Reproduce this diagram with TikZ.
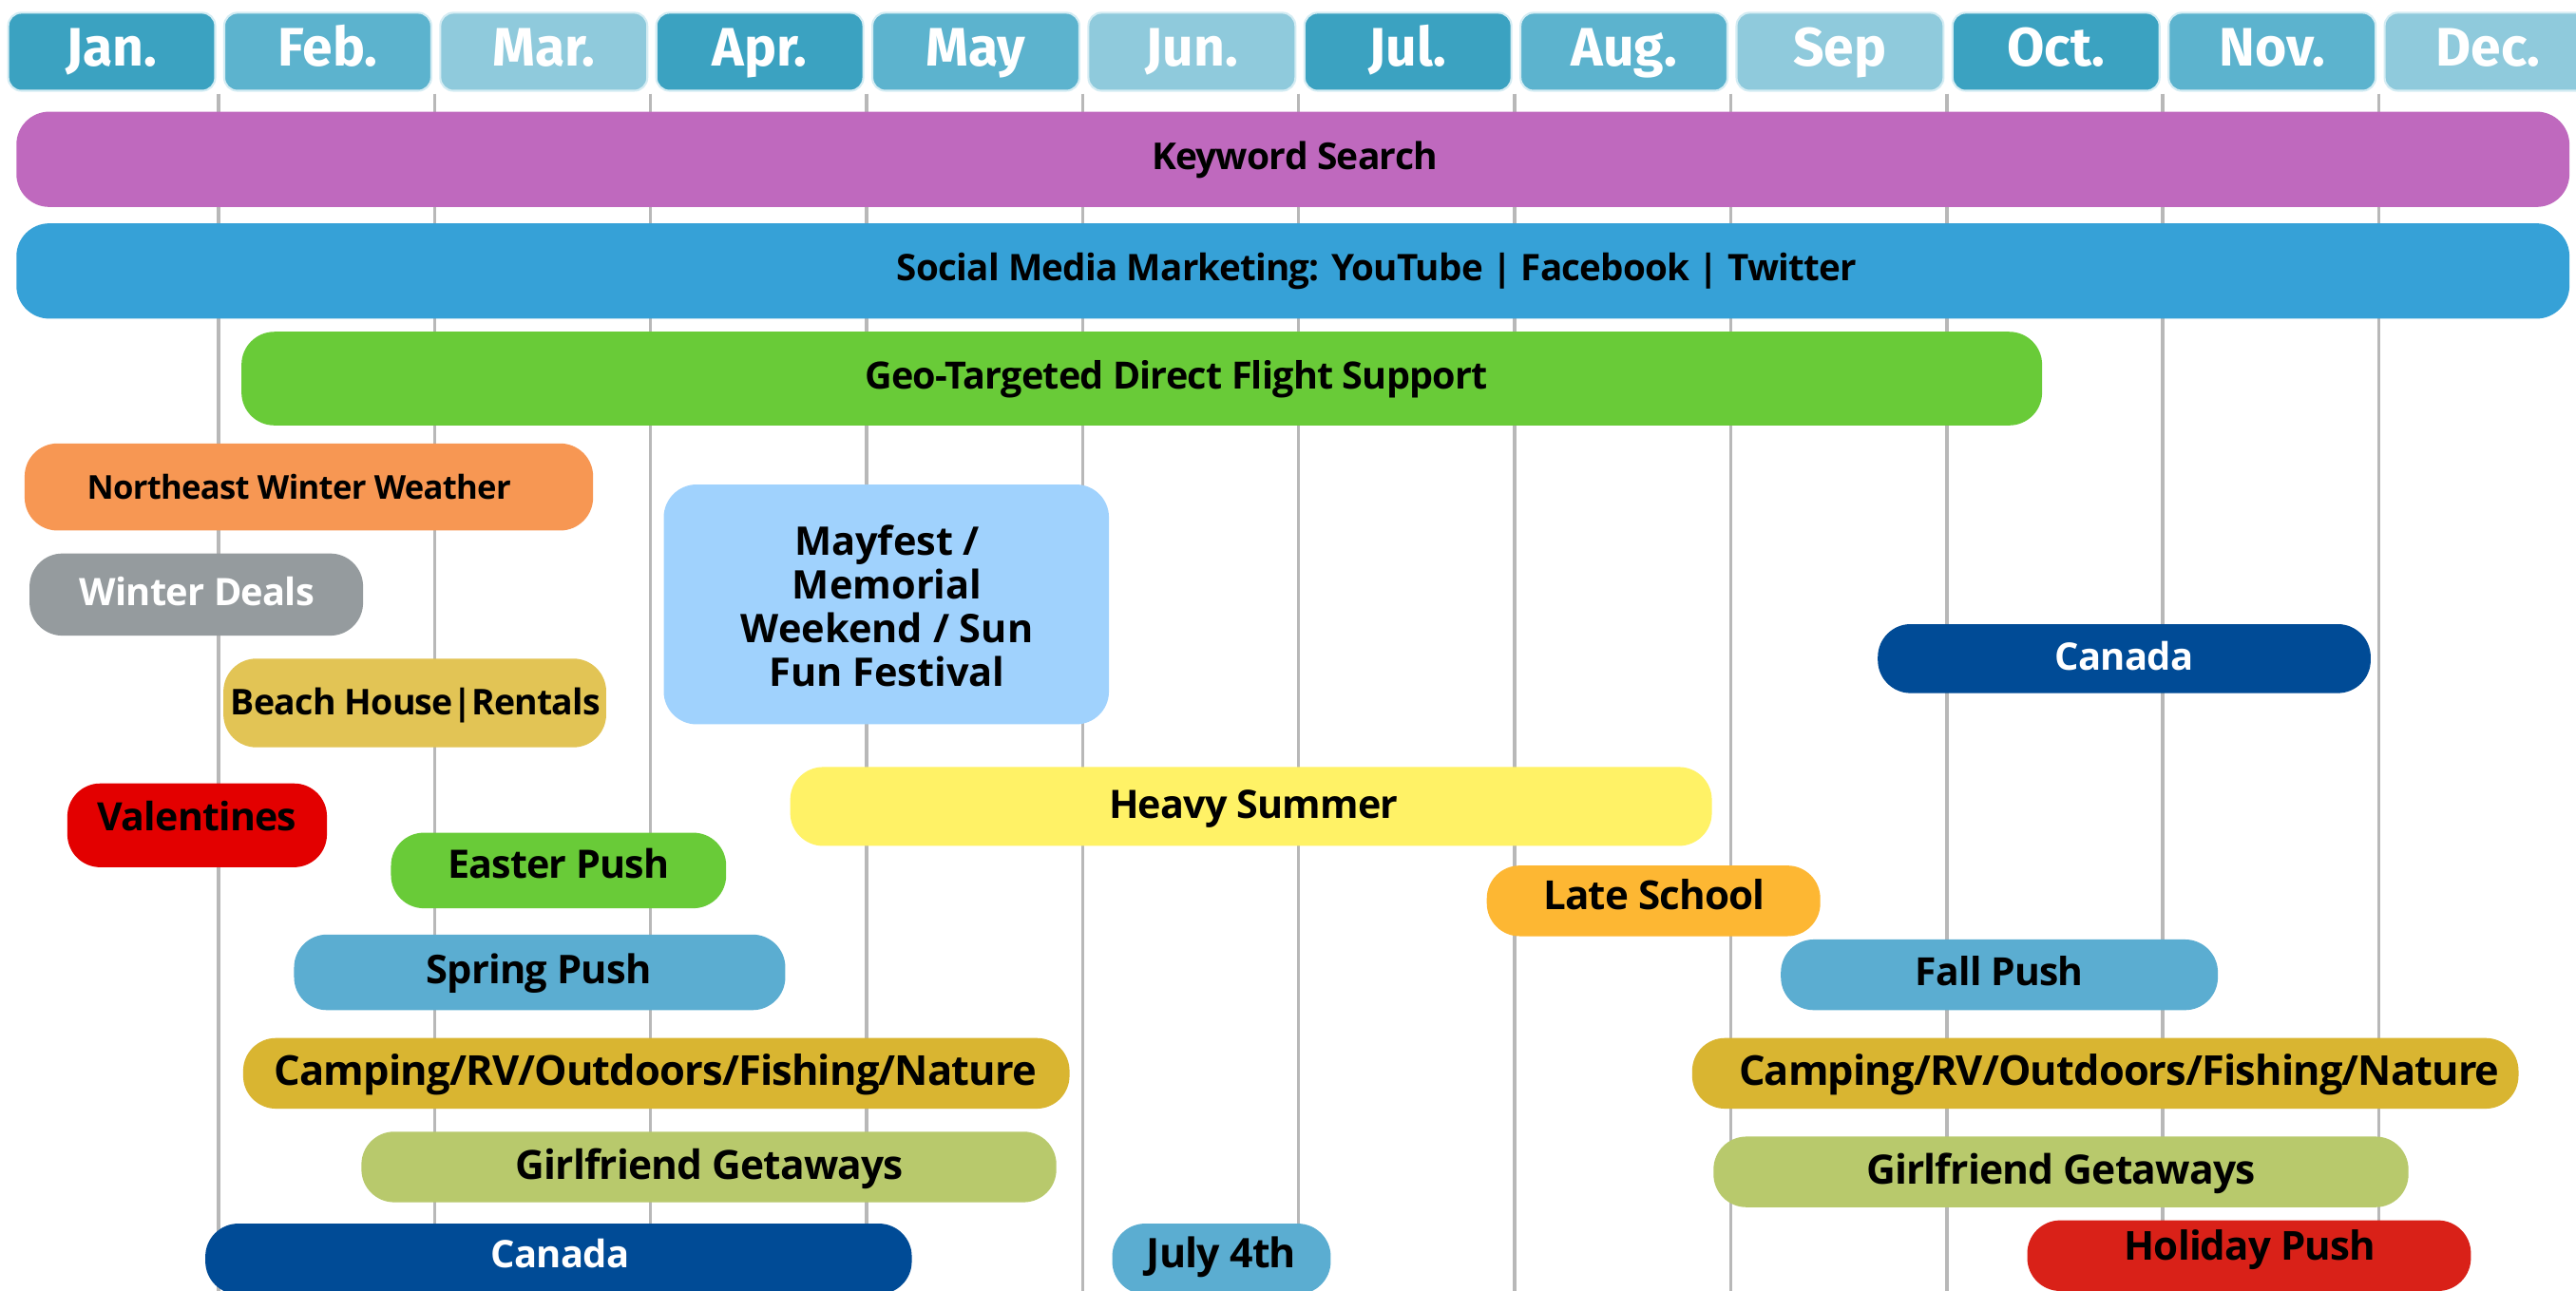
\documentclass[tikz,border=0pt]{standalone}
\usepackage{fontspec}
\setmainfont{Open Sans}
\newfontfamily\barfont{Open Sans}[LetterSpace=-2]
\newfontfamily\tabfont{Fira Sans}
\newcommand{\fitw}[2]{\resizebox{#1pt}{!}{#2}}
\definecolor{tabA}{HTML}{3BA2C1}
\definecolor{tabB}{HTML}{5CB3CE}
\definecolor{tabC}{HTML}{8FCADC}
\definecolor{tabglow}{HTML}{D4ECF3}
\definecolor{gridc}{HTML}{B8B8B8}
\definecolor{ckw}{HTML}{BF69BE}
\definecolor{csm}{HTML}{36A1D7}
\definecolor{cgeo}{HTML}{69CB38}
\definecolor{cne}{HTML}{F79753}
\definecolor{cwd}{HTML}{959B9E}
\definecolor{cbh}{HTML}{E2C455}
\definecolor{cmf}{HTML}{A0D2FD}
\definecolor{ccan}{HTML}{004B96}
\definecolor{cval}{HTML}{E30000}
\definecolor{chs}{HTML}{FFF266}
\definecolor{cls}{HTML}{FDB733}
\definecolor{cpush}{HTML}{5BADD1}
\definecolor{ccamp}{HTML}{D9B531}
\definecolor{cgf}{HTML}{B8C96C}
\definecolor{chp}{HTML}{D92118}
\begin{document}
\begin{tikzpicture}[x=1pt,y=-1pt,
  tabbox/.style={rectangle, rounded corners=8pt, minimum width=126pt, minimum height=47.5pt, inner sep=0pt, draw=tabglow, line width=1.2pt},
  tablbl/.style={font=\tabfont\bfseries\fontsize{33}{36}\selectfont, text=white, anchor=base, inner sep=0pt},
  gridl/.style={draw=gridc, line width=2pt},
  bar/.style={rectangle, rounded corners=20pt, inner sep=0pt},
  lbl/.style={font=\barfont\bfseries\fontsize{22}{26}\selectfont, inner sep=0pt, text height=16pt, text depth=0pt},
  wlbl/.style={lbl, text=white}]
\useasboundingbox (0,0) rectangle (1568,786);
\fill[white] (0,0) rectangle (1568,786);

% grid lines
\foreach \k in {0,...,10}{
  \draw[gridl] ({133+131.5*\k},57) -- ({133+131.5*\k},786);
}

% month tabs
\foreach \m/\c [count=\i from 0] in {Jan./tabA, Feb./tabB, Mar./tabC, Apr./tabA, May/tabB, Jun./tabC, Jul./tabA, Aug./tabB, Sep/tabC, Oct./tabA, Nov./tabB, Dec./tabC}{
  \node[tabbox, fill=\c] (tab\i) at ({68+131.5*\i},31.5) {};
  \node[tablbl] (tabt\i) at ({68+131.5*\i},40) {\m};
}

% bars
\node[bar, fill=ckw, minimum width=1554pt, minimum height=58pt] (kw) at (787,97) {};
\node[lbl] (kwt) at (788,95) {\fitw{174}{Keyword Search}};

\node[bar, fill=csm, minimum width=1554pt, minimum height=58pt] (sm) at (787,165) {};
\node[lbl] (smt) at (838,163) {\fitw{584}{Social Media Marketing: YouTube | Facebook | Twitter}};

\node[bar, fill=cgeo, minimum width=1096pt, minimum height=57pt] (geo) at (695,230.5) {};
\node[lbl] (geot) at (716,229) {\fitw{379}{Geo-Targeted Direct Flight Support}};

\node[bar, fill=cne, minimum width=346pt, minimum height=53pt] (ne) at (188,296.5) {};
\node[lbl] (net) at (182,296) {\fitw{258}{Northeast Winter Weather}};

\node[bar, fill=cwd, minimum width=203pt, minimum height=50pt] (wd) at (119.5,362) {};
\node[wlbl] (wdt) at (120,361) {\fitw{143}{Winter Deals}};

\node[bar, fill=cbh, minimum width=233pt, minimum height=54pt] (bh) at (252.5,428) {};
\node[lbl] (bht) at (253,427) {\fitw{225}{Beach House|Rentals}};

\node[bar, fill=cmf, minimum width=271pt, minimum height=146pt] (mf) at (539.5,368) {};
\node[font=\bfseries\fontsize{24}{26.6}\selectfont, align=center, inner sep=0pt] (mft) at (540,369) {Mayfest /\\Memorial\\Weekend / Sun\\Fun Festival};

\node[bar, fill=ccan, minimum width=300pt, minimum height=42pt] (canr) at (1293,401) {};
\node[wlbl] (canrt) at (1293,400) {\fitw{84}{Canada}};

\node[bar, fill=cval, minimum width=158pt, minimum height=51pt] (val) at (120,502.5) {};
\node[lbl] (valt) at (120,498) {\fitw{121}{Valentines}};

\node[bar, fill=chs, minimum width=561pt, minimum height=48pt] (hs) at (761.5,491) {};
\node[lbl] (hst) at (763,490) {\fitw{176}{Heavy Summer}};

\node[bar, fill=cgeo, minimum width=204pt, minimum height=46pt] (ep) at (340,530) {};
\node[lbl] (ept) at (340,527) {\fitw{135}{Easter Push}};

\node[bar, fill=cls, minimum width=203pt, minimum height=43pt] (ls) at (1006.5,548.5) {};
\node[lbl] (lst) at (1007,546) {\fitw{135}{Late School}};

\node[bar, fill=cpush, minimum width=299pt, minimum height=46pt] (sp) at (328.5,592) {};
\node[lbl] (spt) at (328,591) {\fitw{137}{Spring Push}};

\node[bar, fill=cpush, minimum width=266pt, minimum height=43pt] (fp) at (1217,593.5) {};
\node[lbl] (fpt) at (1217,592) {\fitw{102}{Fall Push}};

\node[bar, fill=ccamp, minimum width=503pt, minimum height=43pt] (campl) at (399.5,653.5) {};
\node[lbl] (camplt) at (399,653) {\fitw{464}{Camping/RV/Outdoors/Fishing/Nature}};

\node[bar, fill=ccamp, minimum width=503pt, minimum height=43pt] (campr) at (1281.5,653.5) {};
\node[lbl] (camprt) at (1290,653) {\fitw{463}{Camping/RV/Outdoors/Fishing/Nature}};

\node[bar, fill=cgf, minimum width=423pt, minimum height=43pt] (gfl) at (431.5,710.5) {};
\node[lbl] (gflt) at (432,710) {\fitw{236}{Girlfriend Getaways}};

\node[bar, fill=cgf, minimum width=423pt, minimum height=43pt] (gfr) at (1254.5,713.5) {};
\node[lbl] (gfrt) at (1254.5,713) {\fitw{237}{Girlfriend Getaways}};

\node[bar, fill=ccan, minimum width=430pt, minimum height=43pt] (canl) at (340,766.5) {};
\node[wlbl] (canlt) at (341,764) {\fitw{84}{Canada}};

\node[bar, fill=cpush, minimum width=133pt, minimum height=43pt] (j4) at (743.5,766.5) {};
\node[lbl] (j4t) at (743.5,764) {\fitw{91}{July 4th}};

\node[bar, fill=chp, minimum width=270pt, minimum height=43pt] (hp) at (1369,764.5) {};
\node[lbl] (hpt) at (1369.5,759) {\fitw{153}{Holiday Push}};
\end{tikzpicture}
\end{document}
